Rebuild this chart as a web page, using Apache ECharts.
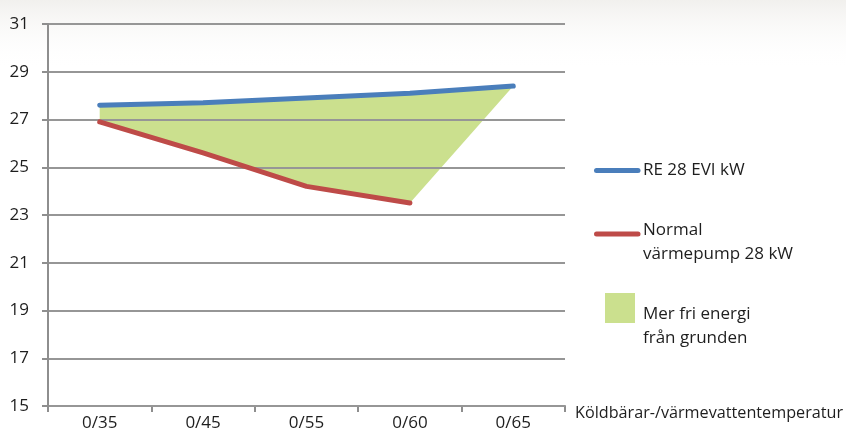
<!DOCTYPE html>
<html>
<head>
<meta charset="utf-8">
<script src="https://cdn.jsdelivr.net/npm/echarts@6/dist/echarts.min.js"></script>
<style>html,body{margin:0;padding:0;background:#fff}#c{width:846px;height:437px}</style>
</head>
<body>
<div id="c"></div>
<script>
const categories = ['0/35', '0/45', '0/55', '0/60', '0/65'];
const reEvi = [27.6, 27.7, 27.9, 28.1, 28.4];
const normalPump = [26.9, 25.6, 24.2, 23.5, null];
const yTicks = { min: 15, max: 31, interval: 2 };
const names = ['RE 28 EVI kW', 'Normal\nvärmepump 28 kW', 'Mer fri energi\nfrån grunden'];
const xAxisName = 'Köldbärar-/värmevattentemperatur';

const FONT = '"Open Sans", "Noto Sans", sans-serif';
const TXT = '#1e1e1e';
const BLUE = '#4a7ebb', RED = '#be4b48', GREEN = '#cbe08e';
const chart = echarts.init(document.getElementById('c'), null, { renderer: 'canvas' });

function legendText(text, x, y) {
  return {
    type: 'text', x: x, y: y, silent: true,
    style: { text: text, fill: TXT, font: '17px ' + FONT, lineHeight: 24,
             align: 'left', verticalAlign: 'middle' }
  };
}

chart.setOption({
  animation: false,
  backgroundColor: '#fff',
  graphic: [
    {
      type: 'rect', silent: true, z: -10,
      shape: { x: 0, y: 0, width: 846, height: 70 },
      style: { fill: new echarts.graphic.LinearGradient(0, 0, 0, 1, [
        { offset: 0, color: 'rgba(215,212,205,0.35)' },
        { offset: 1, color: 'rgba(255,255,255,0)' }
      ]) }
    },
    { type: 'line', silent: true, shape: { x1: 596.5, y1: 170.5, x2: 638, y2: 170.5 },
      style: { stroke: BLUE, lineWidth: 5, lineCap: 'round' } },
    legendText(names[0], 643, 170),
    { type: 'line', silent: true, shape: { x1: 596.5, y1: 234, x2: 638, y2: 234 },
      style: { stroke: RED, lineWidth: 5, lineCap: 'round' } },
    legendText(names[1], 643, 242),
    { type: 'rect', silent: true, shape: { x: 605, y: 293, width: 30, height: 30 },
      style: { fill: GREEN } },
    legendText(names[2], 643, 326)
  ],
  grid: { left: 48, right: 281, top: 24, bottom: 31, containLabel: false, outerBoundsMode: 'none' },
  xAxis: {
    type: 'category', data: categories, boundaryGap: true,
    name: xAxisName, nameLocation: 'end', nameGap: 10,
    nameTextStyle: { fontFamily: FONT, fontSize: 16.2, color: TXT, verticalAlign: 'top', lineHeight: 14 },
    axisLine: { lineStyle: { color: '#8e8e8e', width: 2 } },
    axisTick: { show: true, length: 6, lineStyle: { color: '#8e8e8e', width: 2 } },
    axisLabel: { fontFamily: FONT, fontSize: 17, color: TXT, margin: 9 }
  },
  yAxis: {
    type: 'value', min: yTicks.min, max: yTicks.max, interval: yTicks.interval, z: 1,
    axisLine: { show: true, lineStyle: { color: '#8e8e8e', width: 2 } },
    axisTick: { show: true, length: 6, lineStyle: { color: '#8e8e8e', width: 2 } },
    axisLabel: { fontFamily: FONT, fontSize: 17, color: TXT, margin: 19 },
    splitLine: { show: true, lineStyle: { color: '#969696', width: 2 } }
  },
  series: [
    {
      name: names[2], type: 'custom', z: 0,
      itemStyle: { color: GREEN },
      data: [0],
      renderItem: function (params, api) {
        const pts = [];
        for (let i = 0; i < categories.length; i++) {
          if (reEvi[i] != null) pts.push(api.coord([i, reEvi[i]]));
        }
        for (let i = categories.length - 1; i >= 0; i--) {
          if (normalPump[i] != null) pts.push(api.coord([i, normalPump[i]]));
        }
        return { type: 'polygon', shape: { points: pts }, style: { fill: GREEN } };
      }
    },
    {
      name: names[0], type: 'line', data: reEvi, showSymbol: false, z: 3,
      itemStyle: { color: BLUE },
      lineStyle: { color: BLUE, width: 5, cap: 'round', join: 'round' }
    },
    {
      name: names[1], type: 'line', data: normalPump, showSymbol: false, z: 3,
      itemStyle: { color: RED },
      lineStyle: { color: RED, width: 5, cap: 'round', join: 'round' }
    }
  ]
});
</script>
</body>
</html>
